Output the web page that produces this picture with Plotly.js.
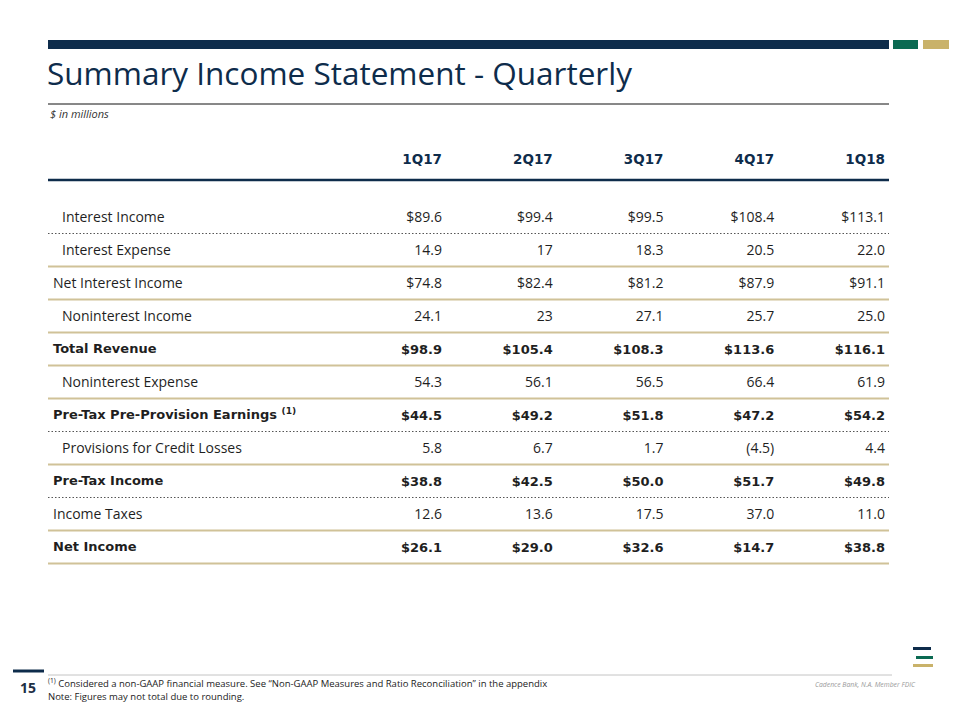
<!DOCTYPE html>
<html>
<head>
<meta charset="utf-8">
<script src="https://cdn.plot.ly/plotly-3.0.1.min.js"></script>
<style>html,body{margin:0;padding:0;background:#fff;}#chart{width:960px;height:720px;}</style>
</head>
<body>
<div id="chart"></div>
<script>
// ---- data ----
var quarters = ['1Q17', '2Q17', '3Q17', '4Q17', '1Q18'];
var rowLabels = ['Interest Income', 'Interest Expense', 'Net Interest Income', 'Noninterest Income',
  'Total Revenue', 'Noninterest Expense', 'Pre-Tax Pre-Provision Earnings <sup>(1)</sup>',
  'Provisions for Credit Losses', 'Pre-Tax Income', 'Income Taxes', 'Net Income'];
var v1Q17 = ['$89.6', '14.9', '$74.8', '24.1', '$98.9', '54.3', '$44.5', '5.8', '$38.8', '12.6', '$26.1'];
var v2Q17 = ['$99.4', '17', '$82.4', '23', '$105.4', '56.1', '$49.2', '6.7', '$42.5', '13.6', '$29.0'];
var v3Q17 = ['$99.5', '18.3', '$81.2', '27.1', '$108.3', '56.5', '$51.8', '1.7', '$50.0', '17.5', '$32.6'];
var v4Q17 = ['$108.4', '20.5', '$87.9', '25.7', '$113.6', '66.4', '$47.2', '(4.5)', '$51.7', '37.0', '$14.7'];
var v1Q18 = ['$113.1', '22.0', '$91.1', '25.0', '$116.1', '61.9', '$54.2', '4.4', '$49.8', '11.0', '$38.8'];
var columns = [v1Q17, v2Q17, v3Q17, v4Q17, v1Q18];

// ---- row styling ----
var indented = [1, 1, 0, 1, 0, 1, 0, 1, 0, 0, 0];
var boldRow  = [0, 0, 0, 0, 1, 0, 1, 0, 1, 0, 1];
var sepStyle = ['dot', 'gold', 'gold', 'gold', 'gold', 'gold', 'dot', 'gold', 'dot', 'gold', 'gold'];

var NAVY = '#0e2c4b', GREEN = '#0b6a52', GOLD = '#c9b26a', LINEGOLD = '#d0c298', TXT = '#1f1f1f';
var REG = 'Open Sans, Segoe UI, sans-serif';
var BOLD = 'DejaVu Sans, Verdana, sans-serif';
var REGSIZE = 14, BOLDSIZE = 13;

var L = 48 / 960, R = 889 / 960;
var rows = rowLabels.map(function (_, i) { return i; });

var traces = [];
// header
traces.push({
  type: 'scatter', mode: 'text', hoverinfo: 'skip',
  x: quarters.map(function (_, k) { return k + 1; }),
  y: quarters.map(function () { return -1.7; }),
  text: quarters,
  textposition: 'middle left',
  textfont: { family: BOLD, size: 13.5, color: NAVY, weight: 700 }
});
// values: one regular and one bold trace per quarter
columns.forEach(function (col, k) {
  [0, 1].forEach(function (b) {
    var idx = rows.filter(function (i) { return boldRow[i] === b; });
    traces.push({
      type: 'scatter', mode: 'text', hoverinfo: 'skip', name: quarters[k],
      x: idx.map(function () { return k + 1; }),
      y: idx.map(function (i) { return i + 0.06; }),
      text: idx.map(function (i) { return col[i]; }),
      textposition: 'middle left',
      textfont: b ? { family: BOLD, size: BOLDSIZE, weight: 700, color: TXT }
                  : { family: REG, size: REGSIZE, weight: 400, color: TXT }
    });
  });
});

var annotations = rowLabels.map(function (lab, i) {
  return {
    xref: 'paper', yref: 'y', x: (indented[i] ? 60 : 51) / 960, y: i, xanchor: 'left', yanchor: 'middle',
    text: lab, showarrow: false, yshift: 1,
    font: boldRow[i] ? { family: BOLD, size: BOLDSIZE, color: TXT, weight: 700 }
                     : { family: REG, size: REGSIZE, color: TXT }
  };
});
annotations.push(
  { xref: 'paper', yref: 'paper', x: 48 / 960, y: 1 - 113 / 720, xanchor: 'left', yanchor: 'middle', showarrow: false,
    text: '$ in millions', font: { family: REG, size: 11, color: '#333', style: 'italic' } },
  { xref: 'paper', yref: 'paper', x: 28 / 960, y: 1 - 687 / 720, xanchor: 'center', yanchor: 'middle', showarrow: false,
    text: '15', font: { family: REG, size: 14, color: '#1e2f44', weight: 700 } },
  { xref: 'paper', yref: 'paper', x: 46 / 960, y: 1 - 683 / 720, xanchor: 'left', yanchor: 'middle', showarrow: false,
    text: '<sup>(1)</sup> Considered a non-GAAP financial measure. See \u201cNon-GAAP Measures and Ratio Reconciliation\u201d in the appendix',
    font: { family: REG, size: 9.5, color: '#222' } },
  { xref: 'paper', yref: 'paper', x: 46 / 960, y: 1 - 696 / 720, xanchor: 'left', yanchor: 'middle', showarrow: false,
    text: 'Note: Figures may not total due to rounding.', font: { family: REG, size: 9.5, color: '#222' } },
  { xref: 'paper', yref: 'paper', x: 918 / 960, y: 1 - 684 / 720, xanchor: 'right', yanchor: 'middle', showarrow: false,
    text: 'Cadence Bank, N.A. Member FDIC', font: { family: REG, size: 6.8, color: '#9a9a9a', style: 'italic' } }
);

function px(y) { return 1 - y / 720; }
var shapes = [
  // top bars
  { type: 'rect', xref: 'paper', yref: 'paper', x0: 48 / 960, x1: 889 / 960, y0: px(49), y1: px(40), fillcolor: NAVY, line: { width: 0 } },
  { type: 'rect', xref: 'paper', yref: 'paper', x0: 893 / 960, x1: 918 / 960, y0: px(49), y1: px(40), fillcolor: GREEN, line: { width: 0 } },
  { type: 'rect', xref: 'paper', yref: 'paper', x0: 923 / 960, x1: 949 / 960, y0: px(49), y1: px(40), fillcolor: GOLD, line: { width: 0 } },
  // title underline
  { type: 'line', xref: 'paper', yref: 'paper', x0: 48 / 960, x1: 889 / 960, y0: px(104), y1: px(104), line: { color: '#111', width: 1 } },
  // header rule
  { type: 'line', xref: 'paper', yref: 'y', x0: L, x1: R, y0: -1.12, y1: -1.12, line: { color: NAVY, width: 2.5 } },
  // footer
  { type: 'rect', xref: 'paper', yref: 'paper', x0: 13 / 960, x1: 44 / 960, y0: px(672.5), y1: px(669.5), fillcolor: NAVY, line: { width: 0 } },
  { type: 'line', xref: 'paper', yref: 'paper', x0: 48 / 960, x1: 892 / 960, y0: px(675), y1: px(675), line: { color: '#c4c4c4', width: 1 } },
  // logo
  { type: 'rect', xref: 'paper', yref: 'paper', x0: 913 / 960, x1: 931 / 960, y0: px(650), y1: px(647), fillcolor: NAVY, line: { width: 0 } },
  { type: 'rect', xref: 'paper', yref: 'paper', x0: 916 / 960, x1: 933 / 960, y0: px(659), y1: px(656), fillcolor: GREEN, line: { width: 0 } },
  { type: 'rect', xref: 'paper', yref: 'paper', x0: 913 / 960, x1: 933 / 960, y0: px(667), y1: px(664), fillcolor: GOLD, line: { width: 0 } }
];
sepStyle.forEach(function (s, i) {
  shapes.push({
    type: 'line', xref: 'paper', yref: 'y', x0: L, x1: R, y0: i + 0.5, y1: i + 0.5,
    line: s === 'dot' ? { color: '#555', width: 1, dash: '1.5px,2px' } : { color: LINEGOLD, width: 2 }
  });
});

var layout = {
  width: 960, height: 720, margin: { l: 0, r: 0, t: 0, b: 0 },
  paper_bgcolor: '#fff', plot_bgcolor: '#fff', showlegend: false,
  title: {
    text: 'Summary Income Statement - Quarterly', x: 47 / 960, xanchor: 'left', xref: 'container',
    y: 1 - 74 / 720, yref: 'container', yanchor: 'middle',
    font: { family: REG, size: 31.5, color: NAVY }
  },
  xaxis: { domain: [L, R], range: [-2.5576, 5.036], visible: false, fixedrange: true },
  yaxis: { domain: [1 - 580 / 720, 1 - 151 / 720], range: [11, -2], visible: false, fixedrange: true },
  annotations: annotations,
  shapes: shapes
};

Plotly.newPlot('chart', traces, layout, { displayModeBar: false, staticPlot: true });
</script>
</body>
</html>
